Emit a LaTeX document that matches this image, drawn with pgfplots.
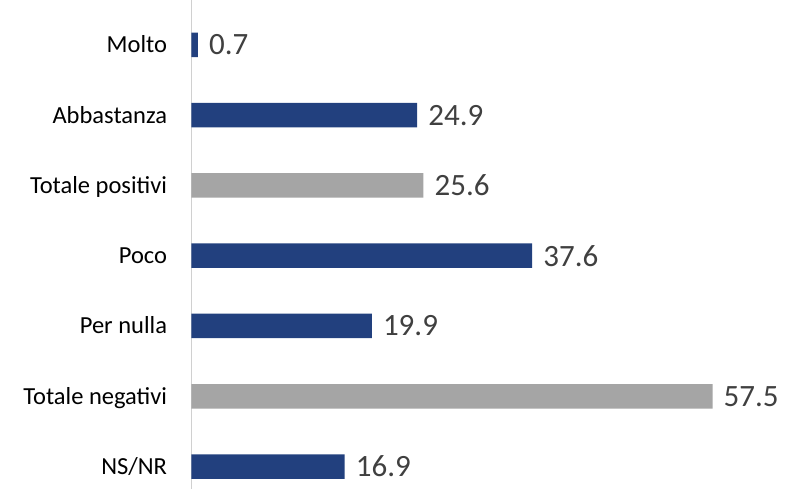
\documentclass[border=0pt]{standalone}
\usepackage{fontspec}
\setmainfont{Carlito}
\usepackage{pgfplots}
\pgfplotsset{compat=1.18}
\definecolor{barblue}{HTML}{22407E}
\definecolor{bargray}{HTML}{A5A5A5}
\definecolor{valgray}{HTML}{404040}
\definecolor{axisgray}{HTML}{D0D0D0}
\begin{document}
\begin{tikzpicture}
\useasboundingbox (0,0) rectangle (788pt,489pt);
\begin{axis}[at={(191.5pt,0pt)},anchor=south west,
scale only axis,width=589pt,height=489pt,
xbar,bar width=24.5pt,bar shift=0pt,
xmin=0,xmax=65,ymin=-0.64,ymax=6.32,y dir=reverse,
axis x line=none,axis y line*=left,
y axis line style={-,axisgray,line width=1.5pt},
ytick={0,1,2,3,4,5,6},
yticklabels={Molto,Abbastanza,Totale positivi,Poco,Per nulla,Totale negativi,NS/NR},
ytick style={draw=none},
yticklabel style={font=\fontsize{24.5}{29}\selectfont,anchor=base east,inner sep=0pt,xshift=-20pt,yshift=-8pt,text=black},
/pgf/number format/assume math mode=true,
nodes near coords={\pgfmathprintnumber[fixed,fixed zerofill,precision=1]{\pgfplotspointmeta}},
every node near coord/.append style={font=\fontsize{31}{36}\selectfont,text=valgray,anchor=west,inner sep=0pt,xshift=11pt},
clip=false]
\addplot[fill=barblue,draw=none] coordinates {(0.7,0) (24.9,1) (37.6,3) (19.9,4) (16.9,6)};
\addplot[fill=bargray,draw=none] coordinates {(25.6,2) (57.5,5)};
\end{axis}
\end{tikzpicture}
\end{document}
